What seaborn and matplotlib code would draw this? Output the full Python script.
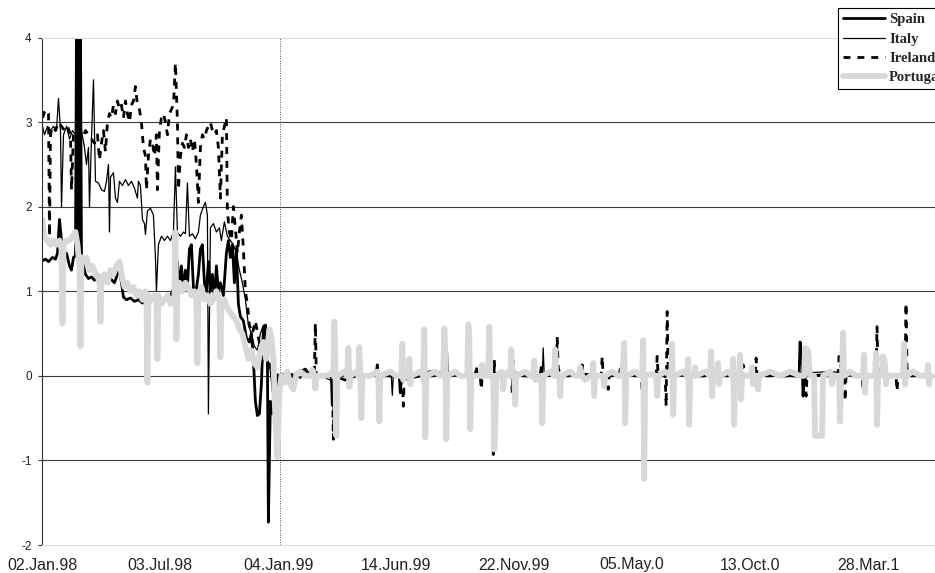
import matplotlib
matplotlib.use("Agg")
import matplotlib.pyplot as plt
import pandas as pd
import seaborn as sns

# (trading day counted from 02.Jan.98, value)
spain = [
    (0, 1.36), (3, 1.38), (6, 1.35), (10, 1.40), (13, 1.38), (15, 1.45), (17, 1.85), (19, 1.6),
    (21, 1.42), (24, 1.45), (27, 1.3), (29, 1.25), (31, 1.4), (33, 1.42), (34, 4.1), (35, 1.5),
    (36, 4.1), (37, 1.45), (38, 4.1), (39, 1.4), (41, 1.3), (43, 1.2), (46, 1.15),
    (49, 1.17), (52, 1.13), (55, 1.2), (58, 1.15), (61, 1.18), (64, 1.12), (68, 1.15), (72, 1.1),
    (75, 1.2), (77, 1.27), (79, 1.1), (81, 0.93), (84, 0.9), (88, 0.92), (92, 0.88), (96, 0.9),
    (100, 0.86), (104, 0.9), (108, 0.88), (113, 0.92), (118, 0.85), (123, 0.9), (128, 0.95),
    (132, 1.05), (135, 1.35), (137, 1.05), (139, 1.3), (141, 1.0), (143, 1.25), (145, 1.05),
    (147, 1.5), (149, 1.55), (151, 1.05), (153, 0.95), (156, 1.2), (158, 1.5), (160, 1.55),
    (162, 1.1), (164, 1.0), (166, 1.35), (168, 1.0), (170, 1.2), (172, 0.9), (174, 1.3),
    (176, 1.0), (178, 1.1), (181, 0.95), (184, 1.45), (186, 1.6), (188, 1.4), (190, 1.55),
    (192, 1.1), (194, 1.5), (196, 0.85), (198, 0.7), (201, 0.65), (204, 0.45), (207, 0.4),
    (209, 0.5), (211, 0.2), (213, -0.3), (215, -0.47), (217, -0.45), (219, -0.1), (221, 0.55),
    (223, 0.6), (225, 0.3), (226, -1.73), (228, -0.3), (230, -0.45), (232, -0.3), (234, -0.5),
    (236, 0.0), (240, 0.02), (248, -0.02), (258, 0.05), (263, 0.08), (268, 0.0), (289, 0.0),
    (290, -0.35), (291, 0.0), (303, -0.05), (318, 0.02), (334, 0.0), (335, 0.1), (336, 0.0),
    (357, 0.0), (358, -0.2), (359, -0.05), (378, 0.0), (388, 0.05), (418, 0.0), (450, 0.03),
    (480, 0.0), (498, 0.0), (499, 0.1), (500, 0.0), (540, 0.02), (577, 0.0), (578, 0.08),
    (579, 0.0), (620, 0.03), (660, 0.0), (700, 0.02), (740, 0.0), (757, 0.0), (758, 0.4),
    (760, 0.2), (761, -0.24), (762, 0.0), (800, 0.02), (840, 0.0), (870, 0.03), (890, 0.0),
]

italy = [
    (0, 2.95), (2, 2.85), (5, 2.95), (8, 2.9), (11, 2.95), (14, 2.9), (16, 3.28), (18, 2.9),
    (19, 2.0), (21, 2.85), (24, 2.95), (27, 2.8), (30, 2.9), (33, 2.85), (36, 2.8), (39, 2.9),
    (42, 2.7), (44, 2.5), (46, 2.7), (47, 2.0), (49, 2.8), (51, 3.5), (53, 2.3), (56, 2.28),
    (59, 2.2), (62, 2.18), (64, 2.3), (66, 2.5), (67, 1.7), (68, 2.35), (71, 2.4), (73, 2.1),
    (75, 2.05), (77, 2.3), (80, 2.25), (83, 2.32), (86, 2.25), (89, 2.3), (92, 2.22), (95, 2.1),
    (96, 2.3), (98, 2.25), (100, 1.85), (102, 1.8), (103, 1.67), (105, 1.95), (108, 1.98),
    (111, 1.9), (113, 1.4), (114, 1.0), (116, 1.55), (119, 1.65), (122, 1.6), (125, 1.65),
    (128, 1.6), (131, 1.7), (133, 2.47), (135, 1.7), (138, 1.65), (141, 1.7), (143, 1.68),
    (145, 2.28), (147, 1.65), (150, 1.68), (153, 1.62), (156, 1.7), (158, 1.9), (161, 2.0),
    (163, 2.05), (165, 1.9), (166, -0.45), (168, 1.75), (171, 1.8), (174, 1.7), (177, 1.75),
    (179, 1.6), (182, 1.82), (185, 1.65), (188, 1.6), (191, 1.55), (194, 1.45), (197, 1.25),
    (200, 1.1), (203, 0.9), (206, 0.6), (209, 0.5), (212, 0.35), (215, 0.3), (218, 0.5),
    (221, 0.6), (224, 0.3), (228, 0.05), (231, -0.3), (234, 0.0), (238, 0.0), (248, 0.03),
    (258, -0.03), (263, 0.05), (278, 0.0), (288, -0.05), (289, 0.0), (290, -0.3), (291, 0.0),
    (318, 0.02), (349, 0.0), (350, -0.23), (351, 0.0), (380, 0.0), (381, -0.34), (382, 0.0),
    (404, 0.0), (405, 0.33), (406, 0.0), (438, 0.02), (468, 0.05), (500, 0.0), (501, 0.33),
    (502, 0.0), (558, 0.02), (598, 0.0), (658, 0.03), (708, 0.0), (788, 0.05), (834, 0.0),
    (835, 0.15), (836, 0.0), (890, 0.0),
]

ireland = [
    (0, 3.05), (2, 3.12), (4, 3.15), (6, 3.1), (7, 1.65), (8, 2.85), (10, 2.95), (13, 2.9),
    (16, 3.0), (19, 2.95), (22, 2.9), (25, 2.95), (28, 2.85), (29, 2.2), (31, 2.85), (34, 2.9),
    (37, 2.85), (40, 2.8), (43, 2.9), (46, 2.85), (49, 2.8), (52, 2.75), (55, 2.85), (57, 2.55),
    (59, 2.75), (61, 2.9), (63, 2.65), (65, 3.0), (67, 3.1), (69, 3.05), (71, 3.2), (73, 3.1),
    (75, 3.25), (77, 3.15), (79, 3.2), (81, 3.05), (83, 3.25), (85, 3.1), (87, 3.0), (89, 3.2),
    (91, 3.25), (93, 3.42), (95, 3.2), (97, 3.15), (99, 3.0), (101, 2.7), (103, 2.6), (104, 2.2),
    (106, 2.6), (108, 2.8), (110, 2.75), (112, 2.6), (114, 2.85), (115, 2.2), (117, 2.9),
    (119, 3.05), (121, 3.1), (123, 3.0), (125, 2.85), (127, 3.1), (129, 3.15), (131, 3.2),
    (133, 3.7), (135, 3.0), (136, 2.2), (138, 2.6), (140, 2.75), (142, 2.7), (144, 2.85),
    (146, 2.7), (148, 2.8), (150, 2.65), (152, 2.8), (154, 2.5), (156, 2.05), (158, 2.7),
    (160, 2.85), (162, 2.8), (164, 2.9), (166, 2.95), (168, 3.0), (170, 2.9), (172, 2.85),
    (174, 2.9), (176, 2.7), (178, 2.1), (180, 2.85), (182, 2.95), (184, 3.05), (185, 1.95),
    (187, 1.7), (189, 1.6), (191, 2.0), (193, 1.75), (195, 1.45), (197, 1.7), (199, 1.9),
    (201, 1.5), (203, 1.0), (205, 0.85), (207, 0.6), (210, 0.5), (213, 0.65), (216, 0.45),
    (219, 0.3), (222, 0.55), (225, 0.25), (228, 0.1), (232, 0.05), (236, 0.0), (243, 0.02),
    (258, 0.0), (272, 0.0), (273, 0.62), (274, 0.0), (290, 0.0), (291, -0.75), (292, 0.0),
    (308, 0.02), (334, 0.0), (335, 0.13), (336, 0.0), (360, 0.0), (361, -0.36), (362, 0.0),
    (403, 0.0), (404, -0.23), (405, 0.0), (433, 0.0), (434, 0.12), (435, 0.0), (438, 0.0),
    (439, -0.16), (440, 0.0), (450, 0.0), (451, -0.93), (452, 0.19), (453, 0.0), (469, 0.0),
    (470, -0.2), (471, 0.2), (472, 0.0), (514, 0.0), (515, 0.46), (516, 0.1), (518, 0.0),
    (539, 0.0), (540, 0.13), (541, 0.0), (559, 0.0), (560, 0.23), (561, 0.0), (565, 0.0),
    (566, -0.16), (567, 0.0), (599, 0.0), (600, -0.21), (601, 0.0), (614, 0.0), (615, 0.23),
    (616, 0.0), (623, 0.0), (624, -0.36), (625, 0.76), (626, 0.1), (628, 0.0), (669, 0.0),
    (670, -0.28), (671, 0.0), (700, 0.0), (701, 0.13), (702, 0.0), (713, 0.0), (714, 0.21),
    (715, 0.0), (763, 0.0), (764, -0.24), (765, 0.0), (796, 0.0), (797, 0.23), (799, 0.1),
    (802, 0.0), (803, -0.3), (804, 0.0), (820, 0.0), (821, -0.16), (822, 0.0), (834, 0.0),
    (835, 0.58), (836, 0.05), (838, 0.0), (854, 0.0), (855, -0.18), (856, 0.0), (863, 0.0),
    (864, 0.86), (865, 0.1), (867, 0.0), (890, 0.0),
]

portugal = [
    (0, 1.85), (2, 1.65), (5, 1.6), (8, 1.55), (11, 1.6), (14, 1.55), (17, 1.6), (19, 1.5),
    (20, 0.62), (21, 1.55), (24, 1.6), (27, 1.6), (30, 1.65), (33, 1.7), (35, 1.55), (37, 1.3),
    (38, 0.35), (39, 1.4), (41, 1.35), (44, 1.4), (47, 1.25), (50, 1.3), (53, 1.2), (56, 1.15),
    (57, 1.1), (58, 0.64), (59, 1.15), (62, 1.2), (65, 1.1), (68, 1.25), (71, 1.2), (74, 1.3),
    (77, 1.35), (79, 1.2), (82, 1.05), (85, 1.1), (88, 1.0), (91, 1.05), (94, 0.95), (97, 1.0),
    (100, 0.9), (103, 1.0), (104, 0.95), (105, -0.08), (106, 0.95), (109, 0.9), (112, 0.95),
    (114, 0.9), (115, 0.2), (116, 0.95), (119, 0.85), (122, 0.9), (125, 0.95), (128, 0.85),
    (131, 0.9), (132, 0.95), (133, 1.7), (134, 0.43), (135, 1.0), (137, 1.1), (140, 1.0),
    (143, 1.1), (146, 1.05), (149, 0.95), (152, 1.0), (154, 0.9), (155, 0.15), (156, 0.95),
    (159, 1.05), (162, 0.9), (165, 0.95), (168, 0.85), (171, 0.9), (174, 1.0), (177, 0.9),
    (178, 0.22), (179, 0.85), (182, 0.9), (185, 0.8), (188, 0.75), (191, 0.7), (194, 0.65),
    (197, 0.55), (200, 0.5), (203, 0.35), (206, 0.2), (209, 0.3), (212, 0.15), (215, 0.1),
    (218, 0.3), (221, 0.4), (224, 0.2), (227, 0.55), (229, 0.45), (231, 0.2), (233, -0.5),
    (235, -0.96), (237, -0.2), (239, 0.0), (242, -0.08), (245, 0.05), (248, -0.1), (251, -0.16),
    (254, 0.02), (258, 0.05), (263, 0.0), (269, 0.0), (270, 0.07), (272, 0.0), (273, -0.15),
    (274, 0.0), (283, 0.0), (290, 0.03), (291, 0.0), (292, 0.64), (293, 0.2), (294, -0.71),
    (295, 0.0), (302, 0.05), (305, 0.0), (306, 0.33), (307, -0.13), (308, 0.0), (314, 0.05),
    (316, 0.0), (317, 0.34), (318, 0.0), (319, -0.5), (320, 0.0), (328, 0.0), (335, 0.05),
    (336, 0.0), (337, -0.54), (338, 0.0), (348, 0.05), (354, 0.0), (359, 0.0), (360, 0.38),
    (361, -0.05), (362, 0.0), (366, 0.0), (367, 0.2), (368, -0.1), (369, 0.0), (378, 0.05),
    (381, 0.0), (382, 0.55), (383, -0.73), (384, 0.0), (393, 0.05), (398, 0.0), (401, 0.0),
    (402, 0.56), (403, 0.3), (404, -0.75), (405, 0.0), (413, 0.05), (418, 0.0), (425, 0.0),
    (426, 0.61), (427, 0.5), (428, -0.63), (429, 0.0), (437, 0.0), (439, 0.0), (440, 0.13),
    (441, 0.0), (446, 0.0), (447, 0.58), (448, 0.0), (451, 0.0), (452, -0.87), (453, -0.6),
    (454, 0.0), (459, 0.05), (460, 0.0), (461, -0.16), (462, 0.0), (466, 0.05), (468, 0.0),
    (469, 0.31), (470, 0.1), (472, 0.0), (473, -0.34), (474, 0.0), (483, 0.05), (488, 0.0),
    (491, 0.0), (492, 0.18), (493, -0.05), (499, 0.0), (500, -0.56), (501, 0.0), (508, 0.05),
    (512, 0.0), (513, 0.31), (514, 0.0), (517, 0.0), (518, -0.24), (519, 0.0), (528, 0.05),
    (533, 0.0), (537, 0.0), (538, 0.1), (540, 0.0), (543, -0.05), (548, 0.0), (550, 0.0),
    (551, 0.15), (552, -0.24), (553, 0.0), (561, 0.0), (562, -0.12), (563, 0.0), (570, 0.05),
    (576, 0.0), (580, 0.0), (581, 0.2), (582, 0.39), (583, -0.56), (584, 0.0), (593, 0.05),
    (598, 0.0), (600, 0.0), (601, 0.42), (602, -1.22), (603, 0.0), (610, 0.02), (614, 0.0),
    (615, -0.24), (616, 0.0), (623, 0.05), (628, 0.0), (629, 0.0), (630, 0.38), (631, -0.46),
    (632, 0.0), (641, 0.05), (645, 0.0), (646, 0.2), (647, -0.58), (648, 0.0), (652, 0.0),
    (653, 0.1), (654, 0.0), (663, 0.05), (668, 0.0), (669, 0.29), (670, -0.24), (671, 0.0),
    (675, 0.0), (676, 0.15), (677, -0.1), (678, 0.0), (686, 0.05), (690, 0.0), (691, 0.2),
    (692, -0.58), (693, 0.0), (697, 0.0), (698, 0.25), (699, -0.28), (700, 0.0), (709, 0.0),
    (710, 0.1), (711, -0.1), (712, 0.0), (715, 0.0), (716, -0.16), (717, 0.0), (728, 0.05),
    (738, 0.0), (748, 0.05), (758, 0.0), (762, 0.0), (763, 0.33), (766, 0.3), (768, 0.0),
    (772, 0.0), (773, -0.71), (780, -0.71), (781, 0.0), (788, 0.05), (789, 0.0), (790, -0.1),
    (791, 0.0), (797, 0.0), (798, -0.54), (799, 0.0), (800, 0.0), (801, 0.51), (802, 0.0),
    (808, 0.05), (814, 0.0), (821, 0.0), (822, 0.25), (823, -0.2), (824, 0.0), (833, 0.0),
    (834, 0.27), (835, -0.58), (836, 0.0), (840, 0.0), (841, 0.23), (843, 0.15), (844, -0.1),
    (845, 0.0), (855, 0.0), (861, 0.0), (862, 0.38), (863, -0.1), (864, 0.0), (871, 0.05),
    (878, 0.0), (885, 0.0), (886, 0.13), (887, -0.1), (888, 0.0), (890, 0.0),
]

tick_obs = [0, 118, 236, 354, 472, 590, 708, 826]
tick_labels = ["02.Jan.98", "03.Jul.98", "04.Jan.99", "14.Jun.99",
               "22.Nov.99", "05.May.0", "13.Oct.0", "28.Mar.1"]
euro_start = 238

sns.set_theme(style="white")
plt.rcParams["font.family"] = ["Liberation Sans", "DejaVu Sans"]
plt.rcParams["axes.unicode_minus"] = False

fig = plt.figure(figsize=(9.35, 5.73), dpi=100)
ax = fig.add_axes([41.5 / 935, 1 - 545 / 573, 1 - 41.5 / 935, 507.5 / 573])

series = [
    ("Spain", spain, dict(color="black", linewidth=2.0)),
    ("Italy", italy, dict(color="black", linewidth=0.9)),
    ("Ireland", ireland, dict(color="black", linewidth=2.0, linestyle=(0, (2.5, 2.5)))),
    ("Portugal", portugal, dict(color="#d8d8d8", linewidth=4.2)),
]

for name, points, style in series:
    df = pd.DataFrame(points, columns=["obs", "value"])
    sns.lineplot(data=df, x="obs", y="value", ax=ax, estimator=None, sort=False,
                 label=name, legend=False, **style)

# grid lines and the dotted line at the start of the euro
for y in [-1, 0, 1, 2, 3]:
    ax.axhline(y, color="#3c3c3c", linewidth=0.8, zorder=0.5)
ax.axvline(euro_start, color="#555555", linewidth=0.7, linestyle=(0, (1, 1.5)), zorder=0.5)

ax.set_xlim(-1, 893)
ax.set_ylim(-2, 4)
ax.set_yticks(range(-2, 5))
ax.set_yticklabels([str(v) for v in range(-2, 5)])
ax.set_xticks(tick_obs)
ax.set_xticklabels(tick_labels)
ax.set_xlabel("")
ax.set_ylabel("")
ax.grid(False)

ax.tick_params(axis="y", which="both", left=True, length=3, width=0.8, color="#333333",
               pad=4, labelsize=8.5, labelcolor="#222222", direction="out")
ax.tick_params(axis="x", length=0, pad=9, labelsize=11.5, labelcolor="#222222")

for side in ["top", "bottom"]:
    ax.spines[side].set_color("#d9d9d9")
    ax.spines[side].set_linewidth(0.8)
ax.spines["left"].set_color("#333333")
ax.spines["left"].set_linewidth(0.8)
ax.spines["right"].set_visible(False)

# the legend runs off the right edge, as in the original ("Portuga")
leg = ax.legend(loc="upper left", bbox_to_anchor=(838 / 935, 1 - 8 / 573),
                bbox_transform=fig.transFigure, frameon=True, fancybox=False,
                framealpha=1, edgecolor="black", borderpad=0.35, handlelength=2.9,
                handletextpad=0.25, labelspacing=0.42, borderaxespad=0,
                prop={"family": "Liberation Serif", "weight": "bold", "size": 10.5})
leg.get_frame().set_linewidth(0.8)
leg.set_zorder(10)

fig.savefig("out.png", dpi=100)
